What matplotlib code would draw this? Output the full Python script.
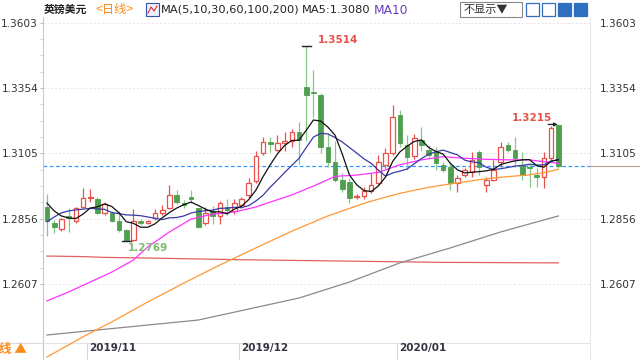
import matplotlib
matplotlib.use("Agg")
import matplotlib.pyplot as plt
from matplotlib.patches import Rectangle
from matplotlib.lines import Line2D
import matplotlib.transforms as mtrans

plt.rcParams['font.family'] = ['DejaVu Sans', 'Noto Sans CJK SC']

# ---------------- data ----------------
opens = [1.2902, 1.2841, 1.2815, 1.2864, 1.2845, 1.2899, 1.2934, 1.2930, 1.2876, 1.2879,
         1.2848, 1.2812, 1.2775, 1.2848, 1.2840, 1.2857, 1.2877, 1.2896, 1.2946, 1.2915,
         1.2940, 1.2895, 1.2838, 1.2883, 1.2864, 1.2902, 1.2883, 1.2908, 1.2946, 1.3000,
         1.3105, 1.3149, 1.3118, 1.3143, 1.3150, 1.3188, 1.3359, 1.3340, 1.3328, 1.3130,
         1.3073, 1.3003, 1.2997, 1.2938, 1.2942, 1.2960, 1.2990, 1.3060, 1.3106, 1.3250,
         1.3137, 1.3095, 1.3155, 1.3118, 1.3111, 1.3061, 1.3054, 1.2991, 1.3023, 1.3035,
         1.3111, 1.2985, 1.3004, 1.3073, 1.3137, 1.3118, 1.3061, 1.3054, 1.3023, 1.3016,
         1.3086, 1.3213]
highs = [1.2950, 1.2851, 1.2857, 1.2896, 1.2902, 1.2974, 1.2968, 1.2937, 1.2918, 1.2886,
         1.2883, 1.2815, 1.2892, 1.2856, 1.2852, 1.2891, 1.2908, 1.2984, 1.2965, 1.2925,
         1.2965, 1.2898, 1.2900, 1.2904, 1.2924, 1.2932, 1.2932, 1.2940, 1.3012, 1.3113,
         1.3167, 1.3166, 1.3176, 1.3186, 1.3197, 1.3225, 1.3514, 1.3423, 1.3335, 1.3181,
         1.3150, 1.3030, 1.3010, 1.2950, 1.2975, 1.3030, 1.3100, 1.3125, 1.3290, 1.3270,
         1.3175, 1.3180, 1.3207, 1.3137, 1.3130, 1.3070, 1.3073, 1.3023, 1.3048, 1.3111,
         1.3118, 1.3016, 1.3080, 1.3149, 1.3149, 1.3169, 1.3111, 1.3067, 1.3048, 1.3111,
         1.3210, 1.3215]
lows = [1.2790, 1.2801, 1.2810, 1.2806, 1.2841, 1.2896, 1.2921, 1.2874, 1.2870, 1.2844,
        1.2806, 1.2769, 1.2772, 1.2833, 1.2836, 1.2851, 1.2870, 1.2892, 1.2912, 1.2895,
        1.2915, 1.2820, 1.2832, 1.2834, 1.2835, 1.2870, 1.2874, 1.2896, 1.2934, 1.2990,
        1.3099, 1.3109, 1.3115, 1.3113, 1.3128, 1.3065, 1.3150, 1.3244, 1.3106, 1.3053,
        1.2995, 1.2958, 1.2915, 1.2930, 1.2930, 1.2955, 1.2985, 1.3050, 1.3100, 1.3130,
        1.3042, 1.3085, 1.3112, 1.3088, 1.3042, 1.3035, 1.2965, 1.2959, 1.3016, 1.3016,
        1.3023, 1.2959, 1.3000, 1.3054, 1.3111, 1.3054, 1.3004, 1.2978, 1.2975, 1.2972,
        1.3080, 1.3050]
closes = [1.2848, 1.2823, 1.2854, 1.2857, 1.2896, 1.2934, 1.2940, 1.2876, 1.2912, 1.2848,
          1.2813, 1.2772, 1.2845, 1.2838, 1.2845, 1.2879, 1.2889, 1.2946, 1.2921, 1.2908,
          1.2930, 1.2825, 1.2876, 1.2864, 1.2915, 1.2889, 1.2917, 1.2930, 1.2991, 1.3094,
          1.3149, 1.3139, 1.3143, 1.3150, 1.3188, 1.3156, 1.3328, 1.3336, 1.3130, 1.3073,
          1.3003, 1.2970, 1.2935, 1.2943, 1.2963, 1.2985, 1.3073, 1.3105, 1.3245, 1.3143,
          1.3092, 1.3165, 1.3135, 1.3099, 1.3067, 1.3042, 1.2991, 1.3010, 1.3042, 1.3080,
          1.3054, 1.3004, 1.3042, 1.3130, 1.3118, 1.3086, 1.3023, 1.3048, 1.3016, 1.3086,
          1.3201, 1.3057]

ma5 = [1.2915, 1.2885, 1.2866, 1.2858, 1.2856, 1.2873, 1.2896, 1.2901, 1.2912, 1.2902,
       1.2878, 1.2844, 1.2838, 1.2823, 1.2823, 1.2836, 1.2859, 1.2879, 1.2896, 1.2909,
       1.2919, 1.2906, 1.2892, 1.2881, 1.2882, 1.2874, 1.2892, 1.2903, 1.2928, 1.2964,
       1.3016, 1.3061, 1.3103, 1.3135, 1.3154, 1.3155, 1.3193, 1.3232, 1.3228, 1.3205,
       1.3174, 1.3102, 1.3022, 1.2985, 1.2963, 1.2959, 1.2980, 1.3014, 1.3074, 1.3110,
       1.3132, 1.3150, 1.3156, 1.3127, 1.3112, 1.3102, 1.3067, 1.3042, 1.3030, 1.3033,
       1.3035, 1.3038, 1.3044, 1.3062, 1.3070, 1.3076, 1.3080, 1.3081, 1.3058, 1.3052,
       1.3075, 1.3080]
ma10 = [1.2844, 1.2862, 1.2878, 1.2885, 1.2889, 1.2892, 1.2895, 1.2893, 1.2891, 1.2879,
        1.2875, 1.2870, 1.2869, 1.2867, 1.2862, 1.2857, 1.2852, 1.2859, 1.2860, 1.2866,
        1.2877, 1.2883, 1.2886, 1.2888, 1.2895, 1.2896, 1.2899, 1.2898, 1.2905, 1.2923,
        1.2945, 1.2976, 1.3003, 1.3032, 1.3059, 1.3086, 1.3127, 1.3167, 1.3181, 1.3179,
        1.3165, 1.3148, 1.3127, 1.3106, 1.3084, 1.3067, 1.3041, 1.3018, 1.3030, 1.3037,
        1.3045, 1.3065, 1.3085, 1.3101, 1.3111, 1.3117, 1.3108, 1.3099, 1.3079, 1.3072,
        1.3069, 1.3052, 1.3043, 1.3046, 1.3051, 1.3056, 1.3059, 1.3063, 1.3060, 1.3061,
        1.3075, 1.3081]

ma30_idx = [0, 3, 6, 9, 12, 14, 17, 20, 23, 26, 29, 31, 34, 37, 40, 43, 46, 49, 52, 55, 58, 61, 64, 67, 69, 71]
ma30_val = [1.2542, 1.2576, 1.2614, 1.2652, 1.2698, 1.2748, 1.2805, 1.2854, 1.2873, 1.2881,
            1.2900, 1.2919, 1.2946, 1.2980, 1.3017, 1.3022, 1.3032, 1.3061, 1.3080, 1.3092,
            1.3086, 1.3082, 1.3080, 1.3080, 1.3073, 1.3067]

ma60_idx = [0, 5, 9, 14, 19, 24, 29, 34, 39, 44, 47, 49, 51, 53, 55, 58, 61, 64, 67, 69, 71]
ma60_val = [1.2328, 1.2405, 1.2462, 1.2538, 1.2610, 1.2679, 1.2744, 1.2808, 1.2866, 1.2914,
            1.2938, 1.2952, 1.2964, 1.2975, 1.2984, 1.2996, 1.3008, 1.3016, 1.3023, 1.3031,
            1.3044]

ma100_idx = [0, 21, 35, 42, 49, 56, 63, 71]
ma100_val = [1.2412, 1.2469, 1.2553, 1.2614, 1.2687, 1.2744, 1.2805, 1.2866]

ma200_idx = [0, 5, 8, 13, 27, 41, 55, 71]
ma200_val = [1.2713, 1.2711, 1.2708, 1.2706, 1.2699, 1.2694, 1.2689, 1.2687]

ytick_vals = [1.2607, 1.2856, 1.3105, 1.3354, 1.3603]
month_labels = ["2019/11", "2019/12", "2020/01"]
month_first_idx = [6, 27, 49]

high_label = "1.3514"
high_idx = 36
recent_high_label = "1.3215"
recent_high_idx = 71
low_label = "1.2769"
low_idx = 11

# ---------------- figure ----------------
W, H = 640, 360
fig = plt.figure(figsize=(6.4, 3.6), dpi=100)
fig.patch.set_facecolor('white')

def fx(px):
    return px / W

def fy(py):
    return 1 - py / H

ax = fig.add_axes([fx(43), 0, fx(590) - fx(43), fy(17)])
ax.set_facecolor('white')
ax.set_xlim(-0.556, 75.4)
ax.set_ylim(1.23166, 1.36248)

RED = '#e8504a'
GREEN_BODY = '#4f9f4f'
GREEN_WICK = '#86c986'

n = len(closes)
xs = list(range(n))
wick_colors = [RED if closes[i] >= opens[i] else GREEN_WICK for i in xs]
ax.vlines(xs, lows, highs, colors=wick_colors, linewidth=0.9, zorder=2)
for i in xs:
    o, c = opens[i], closes[i]
    bottom = min(o, c)
    h = max(abs(c - o), 0.00018)
    if c >= o:
        ax.bar(i, h, bottom=bottom, width=0.64, facecolor='white', edgecolor=RED,
               linewidth=0.9, zorder=3)
    else:
        ax.bar(i, h, bottom=bottom, width=0.64, facecolor=GREEN_BODY, edgecolor=GREEN_BODY,
               linewidth=0.6, zorder=3)

# moving averages
ax.plot(ma200_idx, ma200_val, color='#e06060', lw=0.9, zorder=4)
ax.plot(ma100_idx, ma100_val, color='#8a8a8a', lw=0.9, zorder=4)
ax.plot(ma60_idx, ma60_val, color='#ff9933', lw=0.9, zorder=4)
ax.plot(ma30_idx, ma30_val, color='#ff33ff', lw=0.9, zorder=4)
ax.plot(xs, ma10, color='#3a3aa8', lw=0.9, zorder=5)
ax.plot(xs, ma5, color='#111111', lw=0.9, zorder=6)

# last price dashed line
ax.axhline(closes[-1], color='#3399ff', lw=0.9, ls=(0, (3, 2)), zorder=1)

# grid
for v in ytick_vals:
    ax.axhline(v, color='#e4e4ec', lw=0.7, ls=(0, (2, 2)), zorder=0)

ax.set_yticks(ytick_vals)
ax.set_yticklabels([f"{v:.4f}" for v in ytick_vals])
ax.tick_params(axis='y', which='major', left=True, right=False, labelleft=True,
               labelright=True, labelsize=7.6, labelcolor='#333333', length=2,
               color='#bbbbbb', pad=1.5)
minor = []
for k in range(len(ytick_vals) - 1):
    step = (ytick_vals[k + 1] - ytick_vals[k]) / 4
    minor += [ytick_vals[k] + step * j for j in (1, 2, 3)]
ax.set_yticks(minor, minor=True)
ax.tick_params(axis='y', which='minor', left=True, right=False, length=2, color='#cccccc')
for lbl in ax.yaxis.get_majorticklabels():
    pass
ax.set_xticks([])
for s in ['top', 'bottom']:
    ax.spines[s].set_visible(False)
ax.spines['left'].set_color('#c8c8d0')
ax.spines['right'].set_color('#e8e8ee')
ax.spines['left'].set_linewidth(0.8)
ax.spines['right'].set_linewidth(0.8)
# right-hand labels a little farther from the plot
for t in ax.yaxis.get_major_ticks():
    t.label2.set_x(1.0)
ax.yaxis.set_tick_params(which='major', pad=1.5)
offset = mtrans.ScaledTranslation(5 / 100, 0, fig.dpi_scale_trans)
for t in ax.yaxis.get_major_ticks():
    t.label2.set_transform(t.label2.get_transform() + offset)

# bottom date strip
trans = mtrans.blended_transform_factory(ax.transData, ax.transAxes)
strip_top = (360 - 343) / 343.0
ylo, yhi = ax.get_ylim()
ax.axhline(ylo + strip_top * (yhi - ylo), color='#e2e2ea', lw=0.8, zorder=0)
for lab, idx in zip(month_labels, month_first_idx):
    ax.plot([idx - 0.4, idx - 0.4], [0, strip_top], transform=trans, color='#d8d8e0', lw=0.8,
            zorder=1, clip_on=False)
    ax.text(idx - 0.1, 0.034, lab, transform=trans, fontsize=7.5, fontweight='bold',
            color='#333344', va='center', ha='left', zorder=7)
fig.add_artist(Line2D([0, fx(43)], [fy(343), fy(343)], color='#d8d8e0', lw=0.8))
fig.text(fx(-1), fy(350), "线 ▲", fontsize=9, fontweight='bold', color='#ff8c1a',
         va='center', ha='left', family=['Noto Sans CJK SC', 'DejaVu Sans'])

# extremes
ax.plot([high_idx - 0.6, high_idx + 0.6], [highs[high_idx]] * 2, color='#222222', lw=1.0, zorder=7)
ax.text(high_idx + 1.6, highs[high_idx] + 0.0024, high_label, fontsize=7.5, fontweight='bold',
        color=RED, va='center', ha='left', zorder=8)
ax.annotate('', xy=(recent_high_idx + 0.3, highs[recent_high_idx]),
            xytext=(recent_high_idx - 1.8, highs[recent_high_idx]),
            arrowprops=dict(arrowstyle='-|>', color='#222222', lw=0.9, mutation_scale=5), zorder=8)
ax.text(recent_high_idx - 6.5, highs[recent_high_idx] + 0.0026, recent_high_label, fontsize=7.5,
        fontweight='bold', color=RED, va='center', ha='left', zorder=8)
ax.plot([low_idx - 0.6, low_idx + 0.6], [lows[low_idx]] * 2, color='#222222', lw=1.0, zorder=7)
ax.text(low_idx + 0.2, lows[low_idx] - 0.0024, low_label, fontsize=7.5, fontweight='bold',
        color='#7dbb6e', va='center', ha='left', zorder=8)

# extend last-price line beyond the axis
fig.add_artist(Line2D([fx(590), 1], [fy(166), fy(166)], color='#b0a090', lw=0.8))

# ---------------- header ----------------
cjk = ['Noto Sans CJK SC', 'DejaVu Sans']
fig.text(fx(44), fy(10), "英镑美元", fontsize=7.8, fontweight='bold', color='#222222',
         va='center', ha='left', family=cjk)
fig.text(fx(95), fy(10), "<日线>", fontsize=8.8, color='#ff8c1a', va='center', ha='left', family=cjk)
fig.add_artist(Rectangle((fx(146), fy(16)), fx(13), 13 / H, facecolor='#eef0ff',
                         edgecolor='#3355aa', lw=0.8))
fig.add_artist(Line2D([fx(148), fx(151), fx(154), fx(157)], [fy(13), fy(7), fy(11), fy(6)],
                      color='#dd3333', lw=0.8))
fig.text(fx(161), fy(10), "MA(5,10,30,60,100,200)", fontsize=8.2, color='#222222',
         va='center', ha='left')
fig.text(fx(302), fy(10), "MA5:1.3080", fontsize=8.2, color='#222222', va='center', ha='left')
fig.text(fx(374), fy(10), "MA10", fontsize=8.8, color='#6a3fc0', va='center', ha='left')
fig.add_artist(Rectangle((fx(460), fy(17)), fx(62), 15 / H, facecolor='white',
                         edgecolor='#888888', lw=0.8))
fig.text(fx(464), fy(9.5), "不显示▼", fontsize=8, color='#333333', va='center', ha='left',
         family=cjk)
icon_x = [526, 542, 558, 574]
icon_fill = ['white', 'white', '#2f6fc0', '#2f6fc0']
for ix, fc in zip(icon_x, icon_fill):
    fig.add_artist(Rectangle((fx(ix), fy(16)), fx(13), 13 / H, facecolor=fc,
                             edgecolor='#2f6fc0', lw=0.9))

fig.savefig("out.png", dpi=100)
